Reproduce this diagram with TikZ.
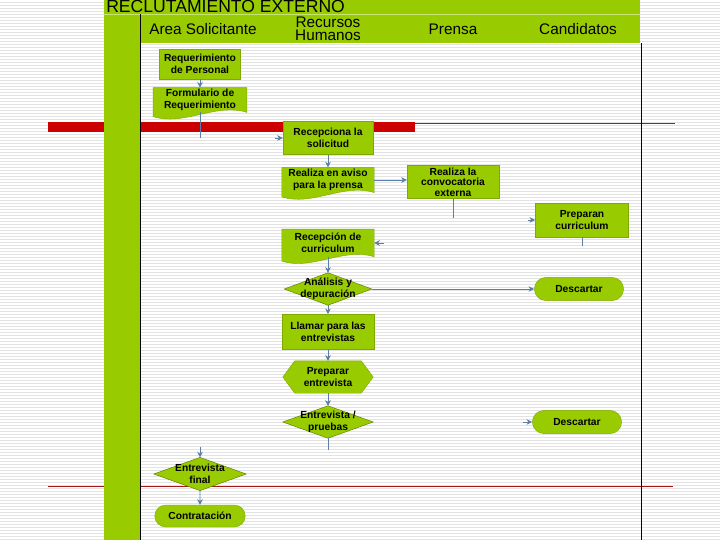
\documentclass[tikz,border=0pt]{standalone}
\usepackage{fontspec}
\setmainfont{Liberation Sans}
\usetikzlibrary{shapes.misc,backgrounds,arrows.meta}

\definecolor{procgreen}{HTML}{99CC00}
\definecolor{edgegreen}{HTML}{7FA800}
\definecolor{flowblue}{HTML}{5A7EA8}
\definecolor{barred}{HTML}{CC0000}
\definecolor{linered}{HTML}{A01818}

\tikzset{
  stripe/.style={black!11, line width=0.7pt},
  lane/.style={font=\fontsize{10.9}{9.5}\selectfont, align=center},
  proc/.style={rectangle, fill=procgreen, draw=edgegreen, line width=0.3pt,
    align=center, inner sep=1pt, font=\fontsize{7.3}{8.5}\selectfont\bfseries},
  docu/.style={proc, fill=none, draw=none},
  decision/.style={proc, fill=none, draw=none},
  prepare/.style={proc, fill=none, draw=none},
  term/.style={proc, rounded rectangle},
  flow/.style={flowblue, line width=0.5pt},
}

% shapes drawn behind the text of the named node
\newcommand{\docshape}[1]{%
  \filldraw[fill=procgreen, draw=edgegreen, line width=0.3pt]
    (#1.north west) -- (#1.north east) -- (#1.south east)
    .. controls +(-30,-10) and +(30,10) .. ([yshift=-3pt]#1.south west) -- cycle;}
\newcommand{\decshape}[1]{%
  \filldraw[fill=procgreen, draw=edgegreen!70!black, line width=0.3pt]
    (#1.north) -- (#1.east) -- (#1.south) -- (#1.west) -- cycle;}
\newcommand{\prepshape}[1]{%
  \filldraw[fill=procgreen, draw=edgegreen, line width=0.3pt]
    (#1.west) -- ([xshift=8.5pt]#1.north west) -- ([xshift=-8.5pt]#1.north east)
    -- (#1.east) -- ([xshift=-8.5pt]#1.south east) -- ([xshift=8.5pt]#1.south west) -- cycle;}

\begin{document}
\begin{tikzpicture}[x=0.025cm, y=-0.025cm, >={Stealth[length=4pt,width=4pt]}]
  \useasboundingbox (0,0) rectangle (720,540);

  % ruled sheet, bars and lane header
  \begin{scope}[on background layer]
    \fill[white] (0,0) rectangle (720,540);
    \foreach \y in {2,5,...,539}
      \draw[stripe] (0,\y) -- (720,\y);
    \fill[barred] (48,122) rectangle (415,132);
    \draw[linered, line width=0.6pt] (415,123) -- (675,123);
    \draw[linered, line width=0.6pt] (48,486) -- (673,486);
    \fill[procgreen] (104,0) rectangle (640,43);
    \fill[procgreen] (104,0) rectangle (140,540);
    \draw[procgreen!55!white, line width=0.5pt] (104,14) -- (640,14);
    \draw[black, line width=0.7pt] (140,14) -- (140,540);
    \draw[black, line width=0.5pt] (641,43) -- (641,540);
  \end{scope}

  \node[anchor=base west, inner sep=0pt, font=\fontsize{12.5}{13}\selectfont] (title) at (106,12.5) {RECLUTAMIENTO EXTERNO};
  \node[lane] (lanearea) at (203,29) {Area Solicitante};
  \node[lane] (lanerrhh) at (328,29) {Recursos\\Humanos};
  \node[lane] (laneprensa) at (453,29) {Prensa};
  \node[lane] (lanecand) at (578,29) {Candidatos};

  % steps
  \node[proc, minimum width=2.03cm, minimum height=0.75cm] (req) at (200,64) {Requerimiento\\de Personal};
  \node[docu, minimum width=2.33cm, minimum height=0.6cm] (form) at (200,100) {Formulario de\\Requerimiento};
  \node[proc, minimum width=2.25cm, minimum height=0.83cm] (recep) at (328,138) {Recepciona la\\solicitud};
  \node[docu, minimum width=2.3cm, minimum height=0.62cm] (aviso) at (328,180) {Realiza en aviso\\para la prensa};
  \node[proc, minimum width=2.3cm, minimum height=0.83cm, font=\fontsize{7.3}{7.5}\selectfont\bfseries] (conv) at (453,182) {Realiza la\\convocatoria\\externa};
  \node[proc, minimum width=2.33cm, minimum height=0.85cm] (prep) at (582,220) {Preparan\\curriculum};
  \node[docu, minimum width=2.3cm, minimum height=0.68cm] (reccv) at (328,243) {Recepción de\\curriculum};
  \node[decision, minimum width=2.18cm, minimum height=0.8cm] (anal) at (328,289) {Análisis y\\depuración};
  \node[term, minimum width=2.3cm, minimum height=0.58cm] (desc1) at (579,289) {Descartar};
  \node[proc, minimum width=2.3cm, minimum height=0.88cm] (llamar) at (328,332) {Llamar para las\\entrevistas};
  \node[prepare, minimum width=2.25cm, minimum height=0.8cm] (prepent) at (328,377) {Preparar\\entrevista};
  \node[decision, minimum width=2.25cm, minimum height=0.8cm] (entrev) at (328,422) {Entrevista /\\pruebas};
  \node[term, minimum width=2.3cm, minimum height=0.58cm] (desc2) at (577,422) {Descartar};
  \node[decision, minimum width=2.3cm, minimum height=0.82cm] (entfin) at (200,474) {Entrevista\\final};
  \node[term, minimum width=2.33cm, minimum height=0.55cm] (contrat) at (200,516) {Contratación};

  \begin{scope}[on background layer]
    \docshape{form} \docshape{aviso} \docshape{reccv}
    \decshape{anal} \decshape{entrev} \decshape{entfin}
    \prepshape{prepent}
  \end{scope}

  % loose ends of the broken connectors
  \coordinate (formstub) at (200,138);
  \coordinate (recepin) at (275,138);
  \coordinate (convstub) at (453,218);
  \coordinate (prepin) at (528,220);
  \coordinate (prepstub) at (582,246);
  \coordinate (reccvin) at (384,243);
  \coordinate (desc2in) at (523,422);
  \coordinate (entrevstub) at (328,450);
  \coordinate (entfinin) at (200,447);

  \draw[flow,->] (req) -- (form);
  \draw[flow] (form.south) -- (formstub);
  \draw[flow,->] (recepin) -- (recep);
  \draw[flow,->] (recep) -- (aviso);
  \draw[flow,->] (aviso.east) -- (aviso.east -| conv.west);
  \draw[flow] (conv) -- (convstub);
  \draw[flow,->] (prepin) -- (prep);
  \draw[flow] (prep) -- (prepstub);
  \draw[flow,->] (reccvin) -- (reccv);
  \draw[flow,->] (reccv) -- (anal);
  \draw[flow,->] (anal) -- (desc1);
  \draw[flow,->] (anal) -- (llamar);
  \draw[flow,->] (llamar) -- (prepent);
  \draw[flow,->] (prepent) -- (entrev);
  \draw[flow,->] (desc2in) -- (desc2);
  \draw[flow] (entrev) -- (entrevstub);
  \draw[flow,->] (entfinin) -- (entfin);
  \draw[flow,->] (entfin) -- (contrat);
\end{tikzpicture}
\end{document}
